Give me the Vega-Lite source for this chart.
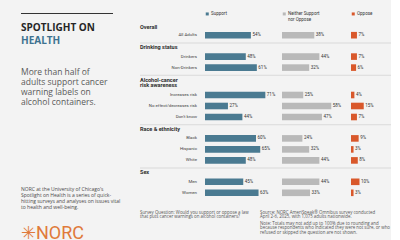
{
  "$schema": "https://vega.github.io/schema/vega-lite/v6.json",
  "background": "#f3f3f3",
  "padding": {"left": 21, "top": 9, "right": 0, "bottom": 0},
  "datasets": {
    "survey": [
      {"section": "Overall", "group": "All Adults", "support": 54, "neither": 38, "oppose": 7},
      {"section": "Drinking status", "group": "Drinkers", "support": 48, "neither": 44, "oppose": 7},
      {"section": "Drinking status", "group": "Non-Drinkers", "support": 61, "neither": 32, "oppose": 6},
      {"section": "Risk awareness", "group": "Increases risk", "support": 71, "neither": 25, "oppose": 4},
      {"section": "Risk awareness", "group": "No effect/decreases risk", "support": 27, "neither": 58, "oppose": 15},
      {"section": "Risk awareness", "group": "Don't know", "support": 44, "neither": 47, "oppose": 7},
      {"section": "Race", "group": "Black", "support": 60, "neither": 24, "oppose": 9},
      {"section": "Race", "group": "Hispanic", "support": 65, "neither": 32, "oppose": 3},
      {"section": "Race", "group": "White", "support": 48, "neither": 44, "oppose": 8},
      {"section": "Sex", "group": "Men", "support": 45, "neither": 44, "oppose": 10},
      {"section": "Sex", "group": "Women", "support": 63, "neither": 33, "oppose": 3}
    ]
  },
  "columns": 2,
  "align": "none",
  "spacing": 19,
  "concat": [
    {
      "spacing": 0,
      "vconcat": [
        {"width": 92, "height": 4, "data": {"values": []}, "mark": "point"},
        {"width": 92, "height": 1, "view": {"fill": "#333333", "stroke": null}, "data": {"values": []}, "mark": "point"},
        {"width": 92, "height": 7.8, "data": {"values": []}, "mark": "point"},
        {
          "width": 92, "height": 20.9,
          "data": {"values": []}, "mark": "point",
          "title": {"text": "SPOTLIGHT ON", "subtitle": "HEALTH", "anchor": "start", "offset": 0,
            "font": "Open Sans", "fontSize": 10, "fontWeight": "bold", "color": "#262626",
            "subtitleFont": "Open Sans", "subtitleFontSize": 10, "subtitleFontWeight": "bold", "subtitleColor": "#3e7290", "subtitlePadding": 3.5}
        },
        {
          "width": 92, "height": 79.2,
          "data": {"values": []}, "mark": "point",
          "title": {"text": ["More than half of", "adults support cancer", "warning labels on", "alcohol containers."],
            "anchor": "start", "offset": 0, "font": "Open Sans", "fontSize": 8.5, "fontWeight": "normal",
            "color": "#5a5a5a", "lineHeight": 10.3}
        },
        {
          "width": 92, "height": 1,
          "data": {"values": []}, "mark": "point",
          "title": {"text": ["NORC at the University of Chicago's", "Spotlight on Health is a series of quick-", "hitting surveys and analyses on issues vital", "to health and well-being."],
            "subtitle": "✳NORC",
            "anchor": "start", "offset": 0, "font": "Open Sans", "fontSize": 5, "fontWeight": "normal", "color": "#4a4a4a", "lineHeight": 6,
            "subtitleFont": "Roboto", "subtitleFontSize": 18, "subtitleFontWeight": "normal", "subtitleColor": "#e07a3a", "subtitlePadding": 15}
        }
      ]
    },
    {
      "spacing": 1.7,
      "vconcat": [
        {"width": 251, "height": 0.3, "data": {"values": []}, "mark": "point"},
        {
          "spacing": 0,
          "resolve": {"scale": {"color": "independent"}, "legend": {"color": "independent"}},
          "hconcat": [
            {
              "width": 65, "height": {"step": 11},
              "title": {"text": "Overall", "offset": -0.5},
              "data": {"name": "survey"},
              "transform": [{"filter": "datum.section === 'Overall'"}],
              "mark": {"type": "text", "align": "right", "x": "width", "dx": -8, "fontSize": 4.4, "color": "#444444"},
              "encoding": {
                "y": {"field": "group", "type": "nominal", "sort": null, "axis": null, "scale": {"type": "band", "paddingInner": 0.4, "paddingOuter": 0.2}},
                "text": {"field": "group"}
              }
            },
            {
              "width": 77, "height": {"step": 11},
              "data": {"name": "survey"},
              "transform": [{"filter": "datum.section === 'Overall'"}, {"calculate": "datum.support + '%'", "as": "label"}],
              "encoding": {
                "y": {"field": "group", "type": "nominal", "sort": null, "axis": null, "scale": {"type": "band", "paddingInner": 0.4, "paddingOuter": 0.2}},
                "x": {"field": "support", "type": "quantitative", "axis": null, "scale": {"domain": [0, 90.6], "nice": false}}
              },
              "layer": [
                {"mark": "bar", "encoding": {"color": {"datum": "Support", "scale": {"range": ["#4a7a91"]}, "legend": {"labelExpr": "['Support', ' ']"}}}},
                {"mark": {"type": "text", "align": "left", "dx": 1.5}, "encoding": {"text": {"field": "label"}}}
              ]
            },
            {
              "width": 69, "height": {"step": 11},
              "data": {"name": "survey"},
              "transform": [{"filter": "datum.section === 'Overall'"}, {"calculate": "datum.neither + '%'", "as": "label"}],
              "encoding": {
                "y": {"field": "group", "type": "nominal", "sort": null, "axis": null, "scale": {"type": "band", "paddingInner": 0.4, "paddingOuter": 0.2}},
                "x": {"field": "neither", "type": "quantitative", "axis": null, "scale": {"domain": [0, 81.2], "nice": false}}
              },
              "layer": [
                {"mark": "bar", "encoding": {"color": {"datum": "Neither Support nor Oppose", "scale": {"range": ["#b9b9b9"]}, "legend": {"labelExpr": "['Neither Support', 'nor Oppose']"}}}},
                {"mark": {"type": "text", "align": "left", "dx": 1.5}, "encoding": {"text": {"field": "label"}}}
              ]
            },
            {
              "width": 40, "height": {"step": 11},
              "data": {"name": "survey"},
              "transform": [{"filter": "datum.section === 'Overall'"}, {"calculate": "datum.oppose + '%'", "as": "label"}],
              "encoding": {
                "y": {"field": "group", "type": "nominal", "sort": null, "axis": null, "scale": {"type": "band", "paddingInner": 0.4, "paddingOuter": 0.2}},
                "x": {"field": "oppose", "type": "quantitative", "axis": null, "scale": {"domain": [0, 47.1], "nice": false}}
              },
              "layer": [
                {"mark": "bar", "encoding": {"color": {"datum": "Oppose", "scale": {"range": ["#d9582b"]}, "legend": {"labelExpr": "['Oppose', ' ']"}}}},
                {"mark": {"type": "text", "align": "left", "dx": 1.5}, "encoding": {"text": {"field": "label"}}}
              ]
            }
          ]
        },
        {"width": 251, "height": 1, "view": {"fill": "#dadada", "stroke": null}, "data": {"values": []}, "mark": "point"},
        {
          "spacing": 0,
          "hconcat": [
            {
              "width": 65, "height": {"step": 11},
              "title": {"text": "Drinking status"},
              "data": {"name": "survey"},
              "transform": [{"filter": "datum.section === 'Drinking status'"}],
              "mark": {"type": "text", "align": "right", "x": "width", "dx": -8, "fontSize": 4.4, "color": "#444444"},
              "encoding": {
                "y": {"field": "group", "type": "nominal", "sort": null, "axis": null, "scale": {"type": "band", "paddingInner": 0.4, "paddingOuter": 0.2}},
                "text": {"field": "group"}
              }
            },
            {
              "width": 77, "height": {"step": 11},
              "data": {"name": "survey"},
              "transform": [{"filter": "datum.section === 'Drinking status'"}, {"calculate": "datum.support + '%'", "as": "label"}],
              "encoding": {
                "y": {"field": "group", "type": "nominal", "sort": null, "axis": null, "scale": {"type": "band", "paddingInner": 0.4, "paddingOuter": 0.2}},
                "x": {"field": "support", "type": "quantitative", "axis": null, "scale": {"domain": [0, 90.6], "nice": false}}
              },
              "layer": [
                {"mark": {"type": "bar", "color": "#4a7a91"}},
                {"mark": {"type": "text", "align": "left", "dx": 1.5}, "encoding": {"text": {"field": "label"}}}
              ]
            },
            {
              "width": 69, "height": {"step": 11},
              "data": {"name": "survey"},
              "transform": [{"filter": "datum.section === 'Drinking status'"}, {"calculate": "datum.neither + '%'", "as": "label"}],
              "encoding": {
                "y": {"field": "group", "type": "nominal", "sort": null, "axis": null, "scale": {"type": "band", "paddingInner": 0.4, "paddingOuter": 0.2}},
                "x": {"field": "neither", "type": "quantitative", "axis": null, "scale": {"domain": [0, 81.2], "nice": false}}
              },
              "layer": [
                {"mark": {"type": "bar", "color": "#b9b9b9"}},
                {"mark": {"type": "text", "align": "left", "dx": 1.5}, "encoding": {"text": {"field": "label"}}}
              ]
            },
            {
              "width": 40, "height": {"step": 11},
              "data": {"name": "survey"},
              "transform": [{"filter": "datum.section === 'Drinking status'"}, {"calculate": "datum.oppose + '%'", "as": "label"}],
              "encoding": {
                "y": {"field": "group", "type": "nominal", "sort": null, "axis": null, "scale": {"type": "band", "paddingInner": 0.4, "paddingOuter": 0.2}},
                "x": {"field": "oppose", "type": "quantitative", "axis": null, "scale": {"domain": [0, 47.1], "nice": false}}
              },
              "layer": [
                {"mark": {"type": "bar", "color": "#d9582b"}},
                {"mark": {"type": "text", "align": "left", "dx": 1.5}, "encoding": {"text": {"field": "label"}}}
              ]
            }
          ]
        },
        {"width": 251, "height": 1, "view": {"fill": "#dadada", "stroke": null}, "data": {"values": []}, "mark": "point"},
        {
          "spacing": 0,
          "hconcat": [
            {
              "width": 65, "height": {"step": 11},
              "title": {"text": ["Alcohol-cancer", "risk awareness"], "lineHeight": 5, "offset": 1.5},
              "data": {"name": "survey"},
              "transform": [{"filter": "datum.section === 'Risk awareness'"}],
              "mark": {"type": "text", "align": "right", "x": "width", "dx": -8, "fontSize": 4.4, "color": "#444444"},
              "encoding": {
                "y": {"field": "group", "type": "nominal", "sort": null, "axis": null, "scale": {"type": "band", "paddingInner": 0.4, "paddingOuter": 0.2}},
                "text": {"field": "group"}
              }
            },
            {
              "width": 77, "height": {"step": 11},
              "data": {"name": "survey"},
              "transform": [{"filter": "datum.section === 'Risk awareness'"}, {"calculate": "datum.support + '%'", "as": "label"}],
              "encoding": {
                "y": {"field": "group", "type": "nominal", "sort": null, "axis": null, "scale": {"type": "band", "paddingInner": 0.4, "paddingOuter": 0.2}},
                "x": {"field": "support", "type": "quantitative", "axis": null, "scale": {"domain": [0, 90.6], "nice": false}}
              },
              "layer": [
                {"mark": {"type": "bar", "color": "#4a7a91"}},
                {"mark": {"type": "text", "align": "left", "dx": 1.5}, "encoding": {"text": {"field": "label"}}}
              ]
            },
            {
              "width": 69, "height": {"step": 11},
              "data": {"name": "survey"},
              "transform": [{"filter": "datum.section === 'Risk awareness'"}, {"calculate": "datum.neither + '%'", "as": "label"}],
              "encoding": {
                "y": {"field": "group", "type": "nominal", "sort": null, "axis": null, "scale": {"type": "band", "paddingInner": 0.4, "paddingOuter": 0.2}},
                "x": {"field": "neither", "type": "quantitative", "axis": null, "scale": {"domain": [0, 81.2], "nice": false}}
              },
              "layer": [
                {"mark": {"type": "bar", "color": "#b9b9b9"}},
                {"mark": {"type": "text", "align": "left", "dx": 1.5}, "encoding": {"text": {"field": "label"}}}
              ]
            },
            {
              "width": 40, "height": {"step": 11},
              "data": {"name": "survey"},
              "transform": [{"filter": "datum.section === 'Risk awareness'"}, {"calculate": "datum.oppose + '%'", "as": "label"}],
              "encoding": {
                "y": {"field": "group", "type": "nominal", "sort": null, "axis": null, "scale": {"type": "band", "paddingInner": 0.4, "paddingOuter": 0.2}},
                "x": {"field": "oppose", "type": "quantitative", "axis": null, "scale": {"domain": [0, 47.1], "nice": false}}
              },
              "layer": [
                {"mark": {"type": "bar", "color": "#d9582b"}},
                {"mark": {"type": "text", "align": "left", "dx": 1.5}, "encoding": {"text": {"field": "label"}}}
              ]
            }
          ]
        },
        {"width": 251, "height": 1, "view": {"fill": "#dadada", "stroke": null}, "data": {"values": []}, "mark": "point"},
        {
          "spacing": 0,
          "hconcat": [
            {
              "width": 65, "height": {"step": 11},
              "title": {"text": "Race & ethnicity"},
              "data": {"name": "survey"},
              "transform": [{"filter": "datum.section === 'Race'"}],
              "mark": {"type": "text", "align": "right", "x": "width", "dx": -8, "fontSize": 4.4, "color": "#444444"},
              "encoding": {
                "y": {"field": "group", "type": "nominal", "sort": null, "axis": null, "scale": {"type": "band", "paddingInner": 0.4, "paddingOuter": 0.2}},
                "text": {"field": "group"}
              }
            },
            {
              "width": 77, "height": {"step": 11},
              "data": {"name": "survey"},
              "transform": [{"filter": "datum.section === 'Race'"}, {"calculate": "datum.support + '%'", "as": "label"}],
              "encoding": {
                "y": {"field": "group", "type": "nominal", "sort": null, "axis": null, "scale": {"type": "band", "paddingInner": 0.4, "paddingOuter": 0.2}},
                "x": {"field": "support", "type": "quantitative", "axis": null, "scale": {"domain": [0, 90.6], "nice": false}}
              },
              "layer": [
                {"mark": {"type": "bar", "color": "#4a7a91"}},
                {"mark": {"type": "text", "align": "left", "dx": 1.5}, "encoding": {"text": {"field": "label"}}}
              ]
            },
            {
              "width": 69, "height": {"step": 11},
              "data": {"name": "survey"},
              "transform": [{"filter": "datum.section === 'Race'"}, {"calculate": "datum.neither + '%'", "as": "label"}],
              "encoding": {
                "y": {"field": "group", "type": "nominal", "sort": null, "axis": null, "scale": {"type": "band", "paddingInner": 0.4, "paddingOuter": 0.2}},
                "x": {"field": "neither", "type": "quantitative", "axis": null, "scale": {"domain": [0, 81.2], "nice": false}}
              },
              "layer": [
                {"mark": {"type": "bar", "color": "#b9b9b9"}},
                {"mark": {"type": "text", "align": "left", "dx": 1.5}, "encoding": {"text": {"field": "label"}}}
              ]
            },
            {
              "width": 40, "height": {"step": 11},
              "data": {"name": "survey"},
              "transform": [{"filter": "datum.section === 'Race'"}, {"calculate": "datum.oppose + '%'", "as": "label"}],
              "encoding": {
                "y": {"field": "group", "type": "nominal", "sort": null, "axis": null, "scale": {"type": "band", "paddingInner": 0.4, "paddingOuter": 0.2}},
                "x": {"field": "oppose", "type": "quantitative", "axis": null, "scale": {"domain": [0, 47.1], "nice": false}}
              },
              "layer": [
                {"mark": {"type": "bar", "color": "#d9582b"}},
                {"mark": {"type": "text", "align": "left", "dx": 1.5}, "encoding": {"text": {"field": "label"}}}
              ]
            }
          ]
        },
        {"width": 251, "height": 1, "view": {"fill": "#dadada", "stroke": null}, "data": {"values": []}, "mark": "point"},
        {
          "spacing": 0,
          "hconcat": [
            {
              "width": 65, "height": {"step": 11},
              "title": {"text": "Sex"},
              "data": {"name": "survey"},
              "transform": [{"filter": "datum.section === 'Sex'"}],
              "mark": {"type": "text", "align": "right", "x": "width", "dx": -8, "fontSize": 4.4, "color": "#444444"},
              "encoding": {
                "y": {"field": "group", "type": "nominal", "sort": null, "axis": null, "scale": {"type": "band", "paddingInner": 0.4, "paddingOuter": 0.2}},
                "text": {"field": "group"}
              }
            },
            {
              "width": 77, "height": {"step": 11},
              "data": {"name": "survey"},
              "transform": [{"filter": "datum.section === 'Sex'"}, {"calculate": "datum.support + '%'", "as": "label"}],
              "encoding": {
                "y": {"field": "group", "type": "nominal", "sort": null, "axis": null, "scale": {"type": "band", "paddingInner": 0.4, "paddingOuter": 0.2}},
                "x": {"field": "support", "type": "quantitative", "axis": null, "scale": {"domain": [0, 90.6], "nice": false}}
              },
              "layer": [
                {"mark": {"type": "bar", "color": "#4a7a91"}},
                {"mark": {"type": "text", "align": "left", "dx": 1.5}, "encoding": {"text": {"field": "label"}}}
              ]
            },
            {
              "width": 69, "height": {"step": 11},
              "data": {"name": "survey"},
              "transform": [{"filter": "datum.section === 'Sex'"}, {"calculate": "datum.neither + '%'", "as": "label"}],
              "encoding": {
                "y": {"field": "group", "type": "nominal", "sort": null, "axis": null, "scale": {"type": "band", "paddingInner": 0.4, "paddingOuter": 0.2}},
                "x": {"field": "neither", "type": "quantitative", "axis": null, "scale": {"domain": [0, 81.2], "nice": false}}
              },
              "layer": [
                {"mark": {"type": "bar", "color": "#b9b9b9"}},
                {"mark": {"type": "text", "align": "left", "dx": 1.5}, "encoding": {"text": {"field": "label"}}}
              ]
            },
            {
              "width": 40, "height": {"step": 11},
              "data": {"name": "survey"},
              "transform": [{"filter": "datum.section === 'Sex'"}, {"calculate": "datum.oppose + '%'", "as": "label"}],
              "encoding": {
                "y": {"field": "group", "type": "nominal", "sort": null, "axis": null, "scale": {"type": "band", "paddingInner": 0.4, "paddingOuter": 0.2}},
                "x": {"field": "oppose", "type": "quantitative", "axis": null, "scale": {"domain": [0, 47.1], "nice": false}}
              },
              "layer": [
                {"mark": {"type": "bar", "color": "#d9582b"}},
                {"mark": {"type": "text", "align": "left", "dx": 1.5}, "encoding": {"text": {"field": "label"}}}
              ]
            }
          ]
        },
        {
          "spacing": 0,
          "hconcat": [
            {
              "width": 120, "height": 10.5,
              "data": {"values": []}, "mark": "point",
              "title": {"text": ["Survey Question: Would you support or oppose a law", "that puts cancer warnings on alcohol containers?"],
                "orient": "bottom", "offset": 0, "font": "Open Sans", "fontSize": 4.4, "fontWeight": "normal", "color": "#555555", "lineHeight": 4.8}
            },
            {
              "width": 131, "height": 10.5,
              "data": {"values": []}, "mark": "point",
              "title": {"text": ["Source: NORC AmeriSpeak® Omnibus survey conducted", "April 2-6, 2025, with 1,075 adults nationwide."],
                "subtitle": ["Note: Totals may not add up to 100% due to rounding and", "because respondents who indicated they were not sure, or who", "refused or skipped the question are not shown."],
                "orient": "bottom", "offset": 0, "font": "Open Sans", "fontSize": 4.4, "fontWeight": "normal", "color": "#555555", "lineHeight": 4.7,
                "subtitleFont": "Open Sans", "subtitleFontSize": 4.4, "subtitleColor": "#555555", "subtitleLineHeight": 4.7, "subtitlePadding": 2}
            }
          ]
        }
      ]
    }
  ],
  "config": {
    "font": "Roboto",
    "view": {"stroke": null},
    "title": {"anchor": "start", "fontSize": 5.5, "fontWeight": "bold", "color": "#2e2e2e", "offset": 0.5},
    "text": {"fontSize": 4.5, "color": "#333333"},
    "legend": {"orient": "top", "title": null, "symbolType": "square", "symbolSize": 9, "symbolStrokeWidth": 0,
      "labelFontSize": 4.5, "labelColor": "#333333", "padding": 0, "offset": 7, "labelOffset": 1.5}
  }
}
